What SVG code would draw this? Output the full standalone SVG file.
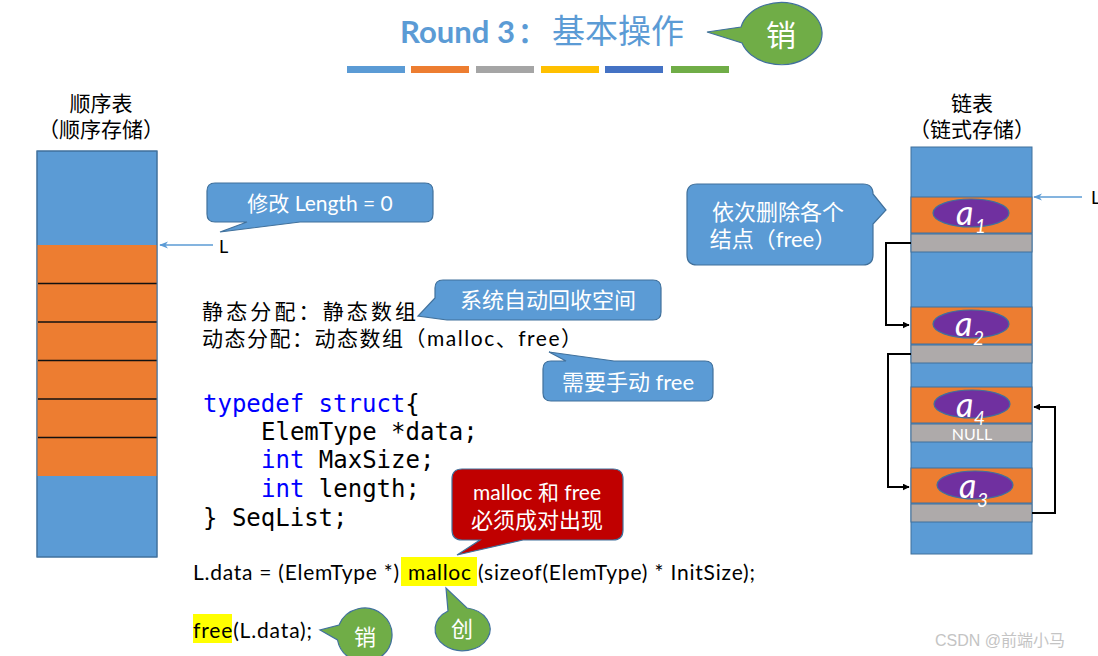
<svg xmlns="http://www.w3.org/2000/svg" width="1098" height="656" viewBox="0 0 1098 656">
<style>
.cjk{font-family:"Noto Sans CJK SC",sans-serif}
.lat{font-family:Lato,"Noto Sans CJK SC",sans-serif}
.mono{font-family:"DejaVu Sans Mono",monospace;font-size:24px}
.kw{fill:#0000FF}
.wt{fill:#FFFFFF}
.blk{fill:#000000}
.call{fill:#5B9BD5;stroke:#41719C;stroke-width:1.2}
.red{fill:#C00000;stroke:#41719C;stroke-width:1.2}
.grn{fill:#70AD47;stroke:#41719C;stroke-width:1.2}
.cb{fill:#5B9BD5;stroke:#41719C;stroke-width:1}
.co{fill:#ED7D31;stroke:#41719C;stroke-width:1}
.cg{fill:#AEAAAA;stroke:#41719C;stroke-width:1}
.ell{fill:#7030A0;stroke:#41719C;stroke-width:1.2}
.av{font-family:Lato,"Liberation Sans",sans-serif;font-style:italic;fill:#fff}
.link{fill:none;stroke:#000;stroke-width:2}
.hl{fill:#FFFF00}
</style>
<defs>
<marker id="ab" viewBox="0 0 10 10" refX="9" refY="5" markerWidth="7" markerHeight="7" orient="auto" markerUnits="userSpaceOnUse"><path d="M0,0 L10,5 L0,10 Z" fill="#000"/></marker>
<marker id="al" viewBox="0 0 10 10" refX="9" refY="5" markerWidth="9" markerHeight="9" orient="auto" markerUnits="userSpaceOnUse"><path d="M0,1 L10,5 L0,9 L3,5 Z" fill="#5B9BD5"/></marker>
</defs>
<rect width="1098" height="656" fill="#FFFFFF"/>

<g id="title">
<text x="400" y="43" class="lat" font-size="30" font-weight="bold" fill="#5B9BD5" textLength="115" lengthAdjust="spacingAndGlyphs">Round 3</text>
<text x="518" y="43" class="cjk" font-size="28" font-weight="bold" fill="#5B9BD5">：</text>
<text x="552" y="43" class="cjk" font-size="33" fill="#5B9BD5">基本操作</text>
<rect x="347" y="66" width="58" height="7" fill="#5B9BD5"/>
<rect x="411" y="66" width="58" height="7" fill="#ED7D31"/>
<rect x="476" y="66" width="58" height="7" fill="#A5A5A5"/>
<rect x="541" y="66" width="58" height="7" fill="#FFC000"/>
<rect x="605" y="66" width="58" height="7" fill="#4472C4"/>
<rect x="671" y="66" width="58" height="7" fill="#70AD47"/>
</g>

<g id="callout-xiao-top">
<path class="grn" d="M741,27 A41,31 0 1,1 742,43 L707,32 Z"/>
<text x="781" y="46" class="cjk wt" font-size="30" text-anchor="middle">销</text>
</g>

<g id="seq-list">
<text x="101" y="111" class="cjk blk" font-size="21" text-anchor="middle">顺序表</text>
<text x="101" y="137" class="cjk blk" font-size="21" text-anchor="middle">（顺序存储）</text>
<rect class="cb" x="37" y="151" width="120" height="406"/>
<rect x="37" y="245" width="120" height="231" fill="#ED7D31"/>
<g stroke="#111" stroke-width="1.5">
<line x1="38" y1="283.5" x2="157" y2="283.5"/>
<line x1="38" y1="322" x2="157" y2="322"/>
<line x1="38" y1="360.5" x2="157" y2="360.5"/>
<line x1="38" y1="399" x2="157" y2="399"/>
<line x1="38" y1="437.5" x2="157" y2="437.5"/>
</g>
<rect x="37" y="151" width="120" height="406" fill="none" stroke="#41719C" stroke-width="1"/>
<text x="219" y="253" class="lat blk" font-size="18">L</text>
</g>

<g id="callout-length">
<path class="call" d="M215,183 H425 Q433,183 433,191 V214 Q433,222 425,222 H300 L220,232 L247,222 H215 Q207,222 207,214 V191 Q207,183 215,183 Z"/>
<text x="320" y="211" class="lat wt" font-size="21" text-anchor="middle">修改 Length = 0</text>
</g>

<g id="alloc-text">
<text x="202" y="319" class="cjk blk" font-size="21" textLength="214" lengthAdjust="spacing">静态分配：静态数组</text>
<text x="202" y="346" class="lat blk" font-size="21" textLength="380" lengthAdjust="spacing">动态分配：动态数组（malloc、free）</text>
</g>

<g id="callout-auto">
<path class="call" d="M443,280 H653 Q661,280 661,288 V312 Q661,320 653,320 H447 L418,316 L435,298 V288 Q435,280 443,280 Z"/>
<text x="548" y="308" class="cjk wt" font-size="22" text-anchor="middle">系统自动回收空间</text>
</g>

<g id="callout-manual">
<path class="call" d="M551,361 H566 L549,352 L614,361 H705 Q713,361 713,369 V393 Q713,401 705,401 H551 Q543,401 543,393 V369 Q543,361 551,361 Z"/>
<text x="628" y="390" class="lat wt" font-size="22" text-anchor="middle">需要手动 free</text>
</g>

<g id="code">
<text x="203" y="412" class="mono"><tspan class="kw">typedef struct</tspan><tspan class="blk">{</tspan></text>
<text x="261" y="440" class="mono blk">ElemType *data;</text>
<text x="261" y="468" class="mono"><tspan class="kw">int</tspan><tspan class="blk"> MaxSize;</tspan></text>
<text x="261" y="497" class="mono"><tspan class="kw">int</tspan><tspan class="blk"> length;</tspan></text>
<text x="203" y="526" class="mono blk">} SeqList;</text>
</g>

<g id="callout-pair">
<path class="red" d="M462,469 H613 Q623,469 623,479 V530 Q623,540 613,540 H523 L457,555 L480,540 H462 Q452,540 452,530 V479 Q452,469 462,469 Z"/>
<text x="537" y="500" class="lat wt" font-size="21" text-anchor="middle">malloc 和 free</text>
<text x="537" y="528" class="cjk wt" font-size="22" text-anchor="middle">必须成对出现</text>
</g>

<g id="malloc-line">
<rect class="hl" x="401" y="557" width="76" height="29"/>
<text x="193" y="580" class="lat blk" font-size="21" textLength="206" lengthAdjust="spacing">L.data = (ElemType *)</text>
<text x="408" y="580" class="lat blk" font-size="21" textLength="63" lengthAdjust="spacing">malloc</text>
<text x="478" y="580" class="lat blk" font-size="21" textLength="277" lengthAdjust="spacing">(sizeof(ElemType) * InitSize);</text>
</g>

<g id="free-line">
<rect class="hl" x="193" y="614" width="39" height="29"/>
<text x="193" y="638" class="lat blk" font-size="21" textLength="119" lengthAdjust="spacing">free(L.data);</text>
</g>

<g id="callout-xiao-bottom">
<path class="grn" d="M339,625 A27.5,27 0 1,1 337.5,640 L320,630 Z"/>
<text x="365" y="645" class="cjk wt" font-size="22" text-anchor="middle">销</text>
</g>

<g id="callout-chuang">
<path class="grn" d="M467,608 A27.5,21.5 0 1,1 448,611 L446,588 Z"/>
<text x="462" y="637" class="cjk wt" font-size="22" text-anchor="middle">创</text>
</g>

<g id="linked-list">
<text x="972" y="111" class="cjk blk" font-size="21" text-anchor="middle">链表</text>
<text x="972" y="137" class="cjk blk" font-size="21" text-anchor="middle">（链式存储）</text>
<rect class="cb" x="911" y="147" width="121" height="407"/>
<rect class="co" x="911" y="197" width="121" height="36"/>
<rect class="cg" x="911" y="234" width="121" height="18"/>
<rect class="co" x="911" y="307" width="121" height="37"/>
<rect class="cg" x="911" y="345" width="121" height="18"/>
<rect class="co" x="911" y="387" width="121" height="36"/>
<rect class="cg" x="911" y="424" width="121" height="18"/>
<rect class="co" x="911" y="468" width="121" height="35"/>
<rect class="cg" x="911" y="504" width="121" height="18"/>
</g>

<g id="node-a1">
<ellipse class="ell" cx="971" cy="213" rx="38" ry="14"/>
<text x="956" y="225" class="av" font-size="34">a</text>
<text x="975" y="233" class="av" font-size="19">1</text>
</g>
<g id="node-a2">
<ellipse class="ell" cx="971" cy="324" rx="38" ry="14"/>
<text x="955" y="336" class="av" font-size="34">a</text>
<text x="973" y="345" class="av" font-size="19">2</text>
</g>
<g id="node-a4">
<ellipse class="ell" cx="972" cy="404" rx="38" ry="14"/>
<text x="956" y="417" class="av" font-size="34">a</text>
<text x="974" y="425" class="av" font-size="19">4</text>
</g>
<g id="node-null">
<text x="972" y="440" class="lat wt" font-size="16" text-anchor="middle">NULL</text>
</g>
<g id="node-a3">
<ellipse class="ell" cx="975" cy="485" rx="38" ry="14"/>
<text x="959" y="498" class="av" font-size="34">a</text>
<text x="977" y="507" class="av" font-size="19">3</text>
</g>

<g id="callout-delete">
<path class="call" d="M697,184 H863 Q873,184 873,194 L886,210 L873,224 V255 Q873,265 863,265 H697 Q687,265 687,255 V194 Q687,184 697,184 Z"/>
<text x="778" y="220" class="cjk wt" font-size="22" text-anchor="middle">依次删除各个</text>
<text x="773" y="247" class="lat wt" font-size="22" text-anchor="middle">结点（free）</text>
</g>

<g id="connectors">
<line x1="213" y1="245" x2="160" y2="245" stroke="#5B9BD5" stroke-width="1.5" marker-end="url(#al)"/>
<line x1="1082" y1="197" x2="1034" y2="197" stroke="#5B9BD5" stroke-width="1.5" marker-end="url(#al)"/>
<polyline class="link" points="911,243 886,243 886,325 909,325" marker-end="url(#ab)"/>
<polyline class="link" points="911,354 888,354 888,487 909,487" marker-end="url(#ab)"/>
<polyline class="link" points="1032,513 1055,513 1055,407 1034,407" marker-end="url(#ab)"/>
</g>
<text x="1091" y="204" class="lat blk" font-size="18">L</text>

<text x="935" y="646" font-family="'Liberation Sans','Noto Sans CJK SC',sans-serif" font-size="16" fill="#C4C4C4">CSDN @前端小马</text>
</svg>
